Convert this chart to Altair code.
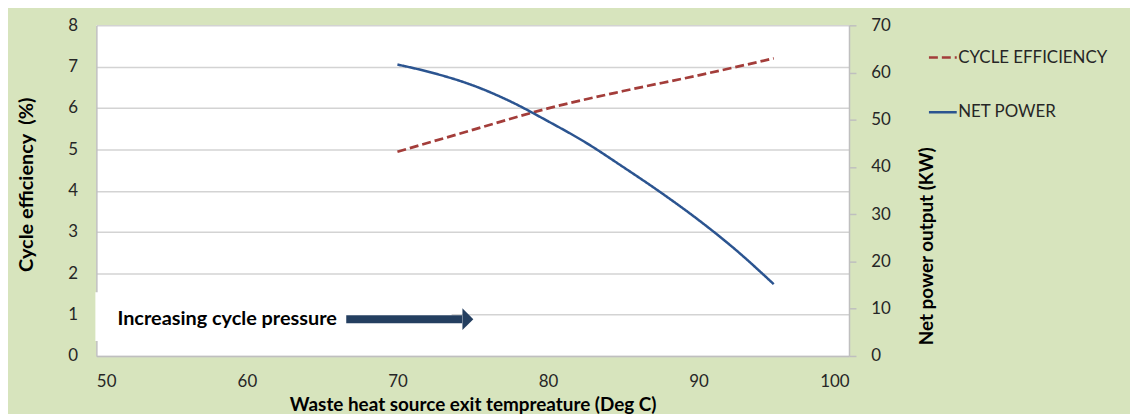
import altair as alt
import pandas as pd

# ---- data ----
eff_temp = [70, 75, 80, 85, 90, 95]
eff_values = [4.94, 5.47, 5.99, 6.41, 6.79, 7.20]

power_temp = [70, 72.5, 75, 77.5, 80, 82.5, 85, 87.5, 90, 92.5, 95]
power_values = [61.7, 59.8, 57.3, 53.9, 49.7, 45.2, 40.0, 34.6, 28.8, 22.4, 15.2]

series_names = ["CYCLE EFFICIENCY", "NET POWER"]
x_ticks = [50, 60, 70, 80, 90, 100]
left_ticks = [0, 1, 2, 3, 4, 5, 6, 7, 8]
right_ticks = [0, 10, 20, 30, 40, 50, 60, 70]
annotation_text = "Increasing cycle pressure"

FONT = "Lato"
RED = "#a33d3a"
BLUE = "#2b5490"
NAVY = "#243f60"
GREEN_BG = "#d7e4bd"
AXIS_GREY = "#bfbfbf"

eff_df = pd.DataFrame({"temp": eff_temp, "val": eff_values, "series": series_names[0]})
pow_df = pd.DataFrame({"temp": power_temp, "val": power_values, "series": series_names[1]})

box_df = pd.DataFrame({"x1": [50], "x2": [73.6], "y1": [0.36], "y2": [1.54]})
arrow_df = pd.DataFrame({"x1": [66.6], "x2": [74.3], "y": [0.89]})
head_df = pd.DataFrame({"x": [74.68], "y": [0.89]})
text_df = pd.DataFrame({"x": [51.4], "y": [0.89], "t": [annotation_text]})

x_axis = alt.Axis(
    values=x_ticks, grid=False, ticks=False, domainColor=AXIS_GREY, domainWidth=1.5,
    labelFont=FONT, labelFontSize=17, labelColor="#262626", labelPadding=18,
    title="Waste heat source exit tempreature (Deg C)", titleFont=FONT, titleFontSize=19,
    titleFontWeight="bold", titleColor="#000000", titleX=379, titleY=49,
    titleBaseline="middle", titleAnchor="start", titleAlign="center",
)
x_scale = alt.Scale(domain=[50, 100], nice=False, zero=False)

left_axis = alt.Axis(
    values=left_ticks, grid=True, gridColor="#d3d3d3", gridWidth=1.5, ticks=False,
    domainColor=AXIS_GREY, domainWidth=1.5, labelFont=FONT, labelFontSize=17,
    labelColor="#262626", labelPadding=19,
    title="Cycle efficiency\u00a0 (%)", titleFont=FONT, titleFontSize=20, titleFontWeight="bold",
    titleColor="#000000", titleAngle=270, titleX=-70, titleY=160, titleBaseline="middle",
    titleAlign="center",
)
left_scale = alt.Scale(domain=[0, 8], nice=False)


def xenc(field):
    return alt.X(field, type="quantitative", scale=x_scale, axis=x_axis)


def yleft(field):
    return alt.Y(field, type="quantitative", scale=left_scale, axis=left_axis)


color_scale = alt.Scale(domain=series_names, range=[RED, BLUE])
dash_scale = alt.Scale(domain=series_names, range=[[9, 4], [1, 0]])
legend = alt.Legend(
    title=None, orient="none", legendX=837, legendY=17, symbolType="stroke",
    symbolSize=784, symbolStrokeWidth=2.5, labelFont=FONT, labelFontSize=17,
    labelColor="#262626", labelOffset=0, rowPadding=31, padding=0, labelLimit=300,
)

box = alt.Chart(box_df).mark_rect(color="white", xOffset=-1).encode(
    x=xenc("x1"), x2="x2", y=yleft("y1"), y2="y2"
)
eff_line = alt.Chart(eff_df).mark_line(strokeWidth=2.75, interpolate="monotone").encode(
    x=xenc("temp"),
    y=yleft("val"),
    color=alt.Color("series:N", scale=color_scale, legend=legend),
    strokeDash=alt.StrokeDash("series:N", scale=dash_scale, legend=legend),
)
arrow = alt.Chart(arrow_df).mark_rule(color=NAVY, strokeWidth=8).encode(
    x=xenc("x1"), x2="x2", y=yleft("y")
)
head = alt.Chart(head_df).mark_point(
    shape="M-0.5,-1L0.5,0L-0.5,1Z", size=484, filled=True, color=NAVY, opacity=1
).encode(x=xenc("x"), y=yleft("y"))
text = alt.Chart(text_df).mark_text(
    align="left", baseline="middle", font=FONT, fontSize=20, fontWeight="bold", color="#000000"
).encode(x=xenc("x"), y=yleft("y"), text="t:N")

left_layer = alt.layer(box, arrow, head, text, eff_line)

right_axis = alt.Axis(
    values=right_ticks, orient="right", grid=False, ticks=True, tickSize=7,
    tickColor=AXIS_GREY, tickWidth=1.5, domainColor=AXIS_GREY, domainWidth=1.5,
    labelFont=FONT, labelFontSize=17, labelColor="#262626", labelPadding=15,
    title="Net power output (KW)", titleFont=FONT, titleFontSize=19, titleFontWeight="bold",
    titleColor="#000000", titleAngle=270, titleX=78, titleY=222, titleBaseline="middle",
    titleAlign="center",
)
pow_line = alt.Chart(pow_df).mark_line(strokeWidth=2.5, interpolate="monotone").encode(
    x=xenc("temp"),
    y=alt.Y("val", type="quantitative", scale=alt.Scale(domain=[0, 70], nice=False), axis=right_axis),
    color=alt.Color("series:N", scale=color_scale, legend=legend),
    strokeDash=alt.StrokeDash("series:N", scale=dash_scale, legend=legend),
)

chart = (
    alt.layer(left_layer, pow_line)
    .resolve_scale(y="independent")
    .properties(
        width=758, height=333,
        autosize=alt.AutoSizeParams(type="none"),
        padding={"left": 89, "top": 16, "right": 283, "bottom": 57},
        background=GREEN_BG,
    )
    .configure_view(fill="white", stroke=None)
)

chart.save("out.html", embed_options={"renderer": "svg", "actions": False})
